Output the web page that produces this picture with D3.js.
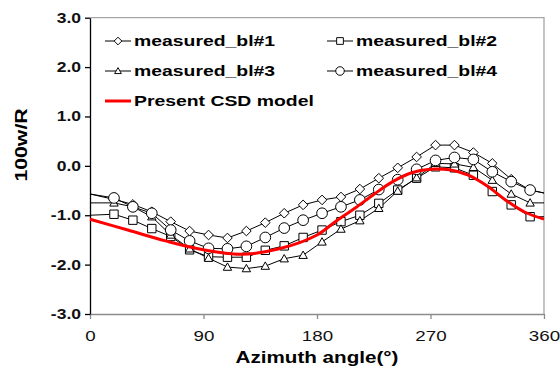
<!DOCTYPE html>
<html>
<head>
<meta charset="utf-8">
<script src="https://cdn.jsdelivr.net/npm/d3@7"></script>
<style>
  body { margin: 0; background: #fff; }
  text { font-family: "Liberation Sans", Arial, sans-serif; }
</style>
</head>
<body>
<svg id="chart" width="560" height="370"></svg>
<script>
// measured angles (deg); 0 and 360 are the wrap-around ends of the lines
const angles = [0, 19, 34, 49, 64, 79, 94, 109, 124, 139, 154, 169, 184, 199, 214,
  229, 244, 259, 274, 289, 304, 319, 334, 349, 360];

const bl1 = [-0.57, -0.68, -0.78, -0.93, -1.13, -1.32, -1.40, -1.46, -1.32, -1.15, -0.96, -0.79,
  -0.69, -0.63, -0.47, -0.25, -0.04, 0.18, 0.42, 0.42, 0.27, 0.05, -0.27, -0.49, -0.55];
const bl2 = [-1.00, -0.98, -1.10, -1.27, -1.43, -1.70, -1.84, -1.85, -1.85, -1.71, -1.62, -1.45,
  -1.30, -1.13, -1.00, -0.76, -0.49, -0.25, -0.02, -0.04, -0.19, -0.52, -0.79, -1.03, -1.03];
const bl3 = [-0.75, -0.75, -0.83, -1.03, -1.40, -1.68, -1.87, -2.05, -2.08, -2.03, -1.88, -1.81,
  -1.54, -1.28, -1.11, -0.86, -0.51, -0.24, 0.05, 0.04, -0.03, -0.29, -0.57, -0.75, -0.75];
const bl4 = [-0.57, -0.65, -0.83, -0.96, -1.30, -1.52, -1.67, -1.68, -1.63, -1.45, -1.26, -1.10,
  -0.96, -0.83, -0.69, -0.48, -0.28, -0.07, 0.11, 0.17, 0.13, -0.12, -0.32, -0.49, -0.55];

const modelAngles = [0, 30, 60, 90, 120, 150, 180, 195, 210, 225, 240, 255, 270, 285, 300, 315, 330, 345, 360];
const modelValues = [-1.08, -1.30, -1.52, -1.70, -1.79, -1.68, -1.40, -1.12, -0.86, -0.58, -0.32,
  -0.14, -0.07, -0.08, -0.19, -0.41, -0.70, -0.94, -1.08];

const seriesNames = ["measured_bl#1", "measured_bl#2", "measured_bl#3", "measured_bl#4"];
const seriesShapes = ["diamond", "square", "triangle", "circle"];
const modelName = "Present CSD model";

const xTicks = [0, 90, 180, 270, 360];
const yTicks = [-3, -2, -1, 0, 1, 2, 3];

const svg = d3.select("#chart");
const width = +svg.attr("width");
const height = +svg.attr("height");
const m = { top: 17.7, right: 16, bottom: 56, left: 90 };

const x = d3.scaleLinear().domain([0, 360]).range([m.left, width - m.right]);
const y = d3.scaleLinear().domain([-3, 3]).range([height - m.bottom, m.top]);

function markerPath(shape) {
  if (shape == "diamond") return "M0,-4.8L4.8,0L0,4.8L-4.8,0Z";
  if (shape == "square") return "M-4.2,-4.2H4.2V4.2H-4.2Z";
  if (shape == "triangle") return "M0,-4.2L4.2,3.2H-4.2Z";
  return d3.symbol(d3.symbolCircle, 90)();
}

// frame (top and right)
svg.append("path")
  .attr("d", `M${x(0)},${y(3)}H${x(360)}V${y(-3)}`)
  .attr("fill", "none")
  .attr("stroke", "#a6a6a6")
  .attr("stroke-width", 1.3);

// x axis
svg.append("g")
  .attr("transform", `translate(0,${y(-3)})`)
  .call(d3.axisBottom(x).tickValues(xTicks).tickSize(5).tickSizeOuter(0).tickFormat(d3.format("d")))
  .call(g => g.selectAll("line, path").attr("stroke", "#8c8c8c").attr("stroke-width", 1.3))
  .call(g => g.selectAll("text").attr("font-size", 15).attr("fill", "#111").attr("y", 16).attr("dy", "0.71em"));

// y axis
svg.append("g")
  .attr("transform", `translate(${m.left},0)`)
  .call(d3.axisLeft(y).tickValues(yTicks).tickSize(5).tickSizeOuter(0).tickFormat(d => d.toFixed(1)))
  .call(g => g.selectAll("line, path").attr("stroke", "#000").attr("stroke-width", 1.3))
  .call(g => g.selectAll("text").attr("font-size", 14).attr("font-weight", "bold").attr("fill", "#111").attr("x", -9));

const lineGen = d3.line()
  .x(d => x(d.a))
  .y(d => y(d.v));

const allSeries = [bl1, bl2, bl3, bl4];

allSeries.forEach((vals, i) => {
  const pts = angles.map((a, j) => ({ a: a, v: vals[j] }));
  svg.append("path")
    .datum(pts)
    .attr("fill", "none")
    .attr("stroke", "#000")
    .attr("stroke-width", 1)
    .attr("d", lineGen);
});

allSeries.forEach((vals, i) => {
  const pts = angles.map((a, j) => ({ a: a, v: vals[j] }))
    .filter(d => d.a > 0 && d.a < 360);
  svg.append("g").selectAll("path")
    .data(pts)
    .enter().append("path")
      .attr("transform", d => `translate(${x(d.a)},${y(d.v)})`)
      .attr("d", markerPath(seriesShapes[i]))
      .attr("fill", "#fff")
      .attr("stroke", "#000")
      .attr("stroke-width", 1);
});

// model curve
const modelPts = modelAngles.map((a, j) => ({ a: a, v: modelValues[j] }));
svg.append("path")
  .datum(modelPts)
  .attr("fill", "none")
  .attr("stroke", "#ff0000")
  .attr("stroke-width", 3)
  .attr("d", lineGen.curve(d3.curveCatmullRom));

// legend
const legendRows = [41, 71];
const legendCols = [105, 327];
seriesNames.forEach((name, i) => {
  const lx = legendCols[i % 2];
  const ly = legendRows[Math.floor(i / 2)];
  svg.append("line")
    .attr("x1", lx).attr("x2", lx + 26)
    .attr("y1", ly).attr("y2", ly)
    .attr("stroke", "#000").attr("stroke-width", 1);
  svg.append("path")
    .attr("transform", `translate(${lx + 13},${ly}) scale(0.8)`)
    .attr("d", markerPath(seriesShapes[i]))
    .attr("fill", "#fff").attr("stroke", "#000").attr("stroke-width", 1.2);
  svg.append("text")
    .attr("class", "legend")
    .attr("x", lx + 29).attr("y", ly)
    .attr("dy", "0.35em")
    .attr("font-size", 15.5).attr("font-weight", "bold")
    .text(name);
});

svg.append("line")
  .attr("x1", 105).attr("x2", 131)
  .attr("y1", 101).attr("y2", 101)
  .attr("stroke", "#ff0000").attr("stroke-width", 3);
svg.append("text")
  .attr("class", "legend")
  .attr("x", 134).attr("y", 101)
  .attr("dy", "0.35em")
  .attr("font-size", 15.5).attr("font-weight", "bold")
  .text(modelName);

// axis titles
svg.append("text")
  .attr("x", (x(0) + x(360)) / 2)
  .attr("y", 357)
  .attr("dy", "0.35em")
  .attr("text-anchor", "middle")
  .attr("font-size", 16.5).attr("font-weight", "bold")
  .text("Azimuth angle(°)");

svg.append("text")
  .attr("transform", `translate(21,145) rotate(-90)`)
  .attr("text-anchor", "middle")
  .attr("dy", "0.35em")
  .attr("font-size", 17).attr("font-weight", "bold")
  .text("100w/R");

// the reference glyphs are drawn wider than Arial
svg.selectAll("text").each(function() {
  const w = this.getComputedTextLength();
  d3.select(this)
    .attr("textLength", w * 1.25)
    .attr("lengthAdjust", "spacingAndGlyphs");
});
</script>
</body>
</html>
